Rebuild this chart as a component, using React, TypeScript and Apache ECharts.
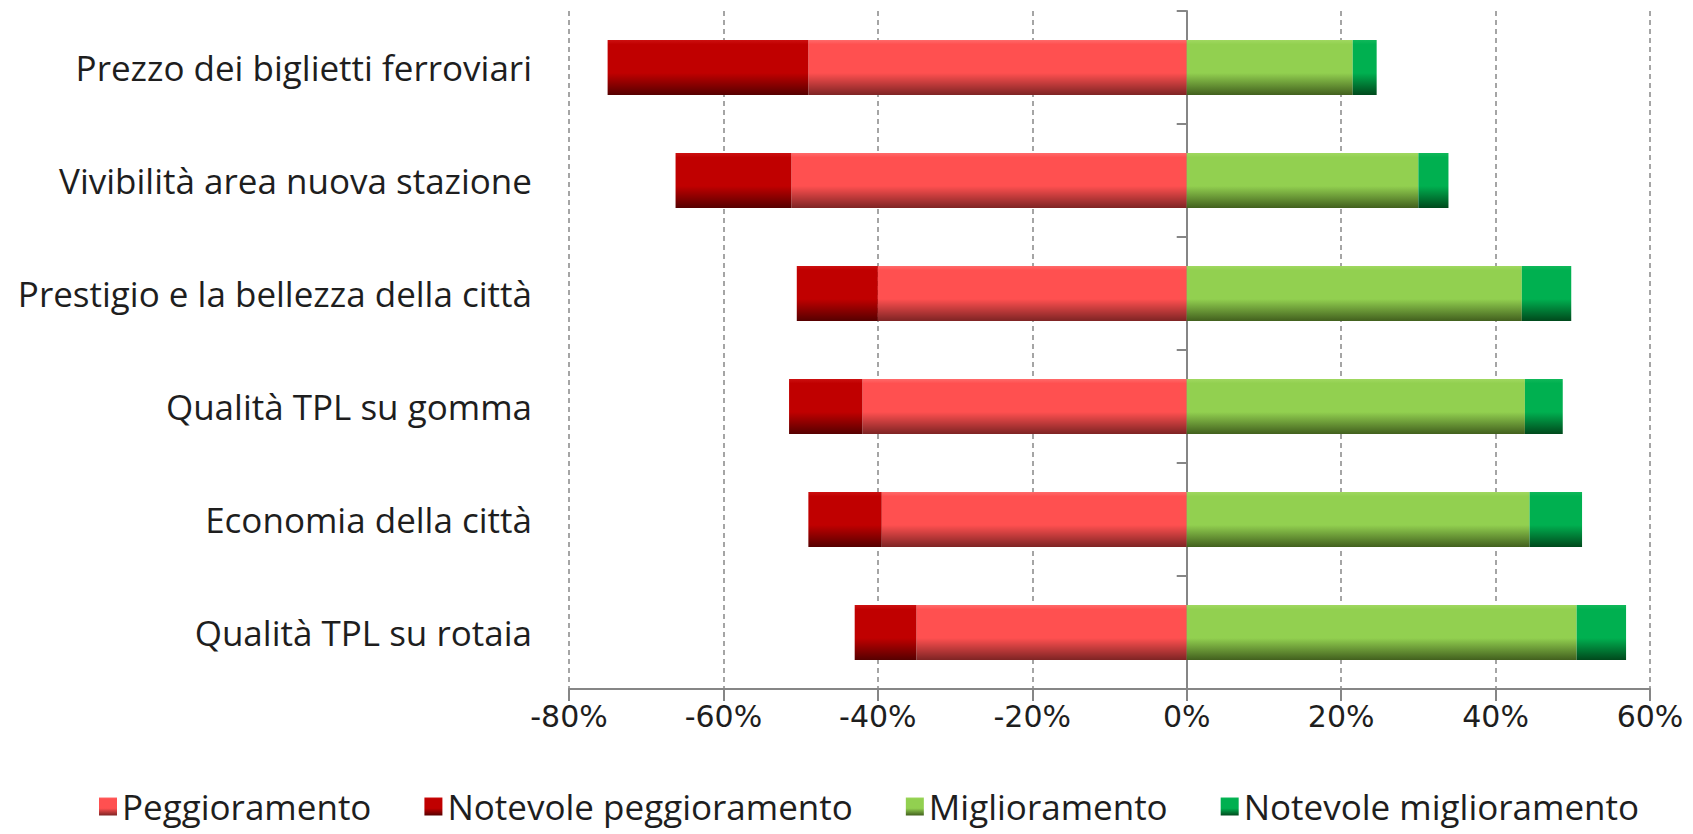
import React, { useEffect, useRef } from "react";
import * as echarts from "echarts";

const categories = [
  "Prezzo dei biglietti ferroviari",
  "Vivibilità area nuova stazione",
  "Prestigio e la bellezza della città",
  "Qualità TPL su gomma",
  "Economia della città",
  "Qualità TPL su rotaia",
];
const peggioramento = [-49, -51.2, -40, -42, -39.5, -35];
const notevolePeggioramento = [-26, -15, -10.5, -9.5, -9.5, -8];
const miglioramento = [21.5, 30, 43.4, 43.8, 44.4, 50.5];
const notevoleMiglioramento = [3.1, 3.9, 6.4, 4.9, 6.8, 6.4];
const xTicks = { min: -80, max: 60, interval: 20 };

function grad(top: string, mid: string, bottom: string) {
  return new echarts.graphic.LinearGradient(0, 0, 0, 1, [
    { offset: 0, color: top },
    { offset: 0.08, color: mid },
    { offset: 0.6, color: mid },
    { offset: 1, color: bottom },
  ]);
}

export default function App() {
  const ref = useRef<HTMLDivElement>(null);
  useEffect(() => {
    document.body.style.margin = "0";
    const chart = echarts.init(ref.current!, null, { renderer: "svg" });
    const labelFont = "Open Sans";
    const barW = 55;
    chart.setOption({
      animation: false,
      backgroundColor: "#ffffff",
      grid: { left: 569, right: 43, top: 11, bottom: 145, containLabel: false },
      legend: {
        bottom: 5,
        left: 94,
        itemWidth: 18,
        itemHeight: 18,
        itemGap: 53,
        icon: "rect",
        textStyle: { fontFamily: labelFont, fontSize: 35, color: "#1e1e1e" },
        data: ["Peggioramento", "Notevole peggioramento", "Miglioramento", "Notevole miglioramento"],
      },
      xAxis: {
        type: "value",
        min: xTicks.min,
        max: xTicks.max,
        interval: xTicks.interval,
        axisLine: { show: true, onZero: false, lineStyle: { color: "#868686", width: 2 } },
        axisTick: { show: true, length: 12, lineStyle: { color: "#868686", width: 2 } },
        axisLabel: {
          formatter: "{value}%",
          fontFamily: "DejaVu Sans",
          fontSize: 30,
          color: "#1e1e1e",
          margin: 12,
        },
        splitLine: { show: true, lineStyle: { color: "#888", width: 1.5, type: [5, 4] } },
      },
      yAxis: [
        {
          type: "category",
          data: categories,
          inverse: true,
          position: "left",
          axisLine: { show: false, onZero: false },
          axisTick: { show: false },
          axisLabel: { fontFamily: labelFont, fontSize: 35, color: "#1e1e1e", margin: 37 },
        },
        {
          type: "category",
          data: categories,
          inverse: true,
          position: "left",
          axisLine: { show: true, onZero: true, lineStyle: { color: "#868686", width: 2 } },
          axisTick: { show: true, length: 10, lineStyle: { color: "#868686", width: 2 } },
          axisLabel: { show: false },
          splitLine: { show: false },
        },
      ],
      series: [
        {
          name: "Peggioramento",
          type: "bar",
          stack: "tot",
          yAxisIndex: 0,
          barWidth: barW,
          data: peggioramento,
          itemStyle: { color: grad("#ff6a6a", "#ff5050", "#7e2424") },
        },
        {
          name: "Notevole peggioramento",
          type: "bar",
          stack: "tot",
          yAxisIndex: 0,
          barWidth: barW,
          data: notevolePeggioramento,
          itemStyle: { color: grad("#cc1010", "#c00000", "#560000") },
        },
        {
          name: "Miglioramento",
          type: "bar",
          stack: "tot",
          yAxisIndex: 0,
          barWidth: barW,
          data: miglioramento,
          itemStyle: { color: grad("#a0d860", "#92d050", "#42601e") },
        },
        {
          name: "Notevole miglioramento",
          type: "bar",
          stack: "tot",
          yAxisIndex: 0,
          barWidth: barW,
          data: notevoleMiglioramento,
          itemStyle: { color: grad("#10b85a", "#00b050", "#00491c") },
        },
      ],
    });
    return () => chart.dispose();
  }, []);
  return <div ref={ref} style={{ width: 1693, height: 834 }} />;
}
